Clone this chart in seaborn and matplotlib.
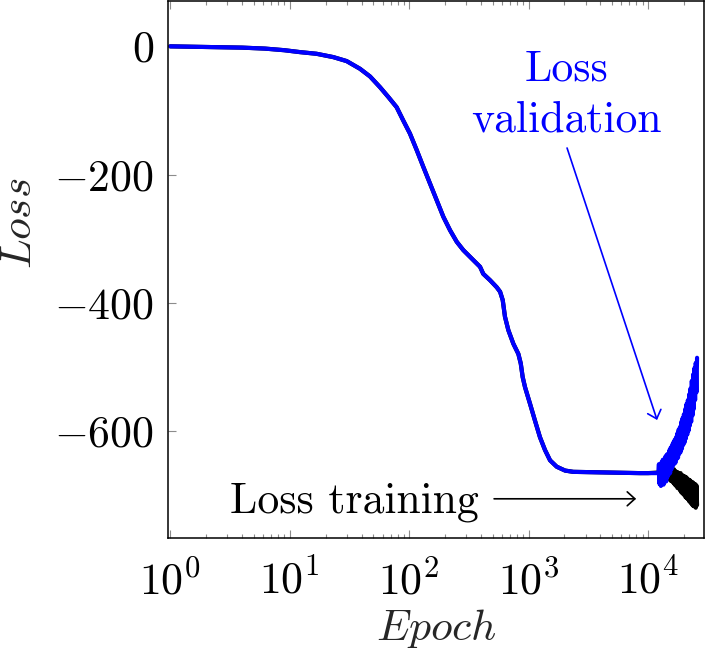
"""
Loss curves (training / validation) against epoch on a log axis.
"""
import numpy as np
import pandas as pd
import matplotlib
matplotlib.use("Agg")
import matplotlib.pyplot as plt
from matplotlib.ticker import LogLocator, NullFormatter
import seaborn as sns

# Shared part of both curves (the two losses coincide here)
epoch_main = [1, 2, 4, 6.2, 9, 12.2, 16.8, 23.2, 30, 38.8, 47.1, 57, 67, 78.7, 89.5,
              101.6, 115.9, 131.5, 149.6, 170.2, 193.6, 220.3, 250.6, 284.4, 334,
              392.6, 417.8, 476.4, 542, 578, 608, 635, 678, 746, 822, 861, 893,
              935, 1030, 1132, 1247, 1374, 1514, 1722, 2023, 2371, 8590, 10000]
loss_main = [0, -1, -2, -3.5, -6, -9, -11.6, -16.8, -23, -35, -47, -63.6, -79, -95, -116,
             -136, -162, -188, -214, -240, -266, -287, -305, -318, -331,
             -344, -355, -365, -376, -383, -396, -422, -443, -464, -480, -495, -516,
             -532, -558, -584, -610, -630, -646, -656, -662, -664, -666, -666]

# Noisy tail where the two curves split
epoch_tail = [12190, 12350, 12500, 12660, 12820, 12990, 13150, 13320, 13490, 13660,
              13840, 14010, 14200, 14380, 14560, 14750, 14940, 15130, 15320, 15510,
              15710, 15910, 16120, 16320, 16530, 16740, 16960, 17170, 17390, 17620,
              17840, 18070, 18300, 18530, 18770, 19010, 19250, 19500, 19740, 20000,
              20250, 20510, 20770, 21040, 21310, 21580, 21850, 22130, 22410, 22700,
              22990, 23280, 23580, 23880, 24180, 24490, 24800, 25120, 25440, 25760]
loss_tail_val = [-666, -652, -683, -655, -686, -649, -680, -645, -684, -650,
                 -676, -640, -679, -637, -672, -636, -668, -630, -666, -626,
                 -660, -622, -655, -618, -652, -614, -650, -610, -644, -604,
                 -642, -598, -636, -594, -633, -586, -628, -580, -622, -574,
                 -618, -566, -612, -558, -606, -552, -600, -543, -592, -534,
                 -586, -522, -576, -512, -566, -502, -552, -494, -540, -486]
loss_tail_train = [-665, -667, -664, -668, -663, -669, -662, -668, -661, -670,
                   -660, -671, -659, -673, -660, -675, -658, -676, -661, -678,
                   -659, -679, -662, -681, -660, -684, -663, -686, -664, -689,
                   -665, -690, -667, -693, -666, -696, -669, -698, -670, -700,
                   -671, -703, -672, -705, -674, -707, -676, -710, -677, -712,
                   -679, -715, -680, -717, -682, -718, -683, -720, -685, -716]

y_ticks = [0, -200, -400, -600]

epochs = epoch_main + epoch_tail
df = pd.concat([
    pd.DataFrame({"epoch": epochs, "loss": loss_main + loss_tail_train, "series": "training"}),
    pd.DataFrame({"epoch": epochs, "loss": loss_main + loss_tail_val, "series": "validation"}),
], ignore_index=True)

sns.set_theme(style="white")
plt.rcParams["font.family"] = ["cmr10", "DejaVu Serif"]
plt.rcParams["mathtext.fontset"] = "cm"
plt.rcParams["axes.formatter.use_mathtext"] = True
plt.rcParams["axes.unicode_minus"] = True

FS = 31.5
BLUE = "#0000ff"

fig = plt.figure(figsize=(7.06, 6.48), dpi=100)
ax = fig.add_axes([0.2373, 0.169, 0.7600, 0.8287])

sns.lineplot(data=df, x="epoch", y="loss", hue="series",
             hue_order=["training", "validation"],
             palette={"training": "black", "validation": BLUE},
             estimator=None, sort=False, linewidth=3.0, legend=False, ax=ax)

ax.set_xscale("log")
ax.set_xlim(0.95, 29500)
ax.set_ylim(-768, 70)
ax.set_yticks(y_ticks)
ax.xaxis.set_major_locator(LogLocator(base=10, numticks=20))
ax.xaxis.set_minor_locator(LogLocator(base=10, subs=np.arange(2, 10), numticks=20))
ax.xaxis.set_minor_formatter(NullFormatter())

for side in ax.spines.values():
    side.set_color("black")
    side.set_linewidth(1.1)

ax.tick_params(axis="both", which="both", direction="in", colors="#8c8c8c",
               labelcolor="black", labelsize=FS, width=0.8)
ax.tick_params(axis="x", which="both", top=True, bottom=True, pad=16)
ax.tick_params(axis="x", which="major", length=5.5)
ax.tick_params(axis="x", which="minor", length=3)
ax.tick_params(axis="y", which="major", length=5.5, left=True, right=False, pad=9.5)

ax.set_xlabel(r"$Epoch$", fontsize=FS, labelpad=2.5)
ax.set_ylabel(r"$Loss$", fontsize=FS)
ax.yaxis.set_label_coords(-0.238, 0.5875)

# annotations
ax.text(0.3486, 0.0493, "Loss training", transform=ax.transAxes,
        fontsize=FS, ha="center", va="baseline", color="black")
ax.annotate("", xy=(0.8733, 0.0739), xytext=(0.6086, 0.0739),
            xycoords="axes fraction", textcoords="axes fraction",
            arrowprops=dict(arrowstyle="->,head_length=0.55,head_width=0.5",
                            color="black", lw=1.2, shrinkA=0, shrinkB=0,
                            mutation_scale=10))

ax.text(0.7428, 0.852, "Loss", transform=ax.transAxes,
        fontsize=FS, ha="center", va="baseline", color=BLUE)
ax.text(0.7428, 0.757, "validation", transform=ax.transAxes,
        fontsize=FS, ha="center", va="baseline", color=BLUE)
ax.annotate("", xy=(0.9124, 0.2207), xytext=(0.7446, 0.7272),
            xycoords="axes fraction", textcoords="axes fraction",
            arrowprops=dict(arrowstyle="->,head_length=0.55,head_width=0.5",
                            color=BLUE, lw=1.2, shrinkA=0, shrinkB=0,
                            mutation_scale=10))

fig.savefig("out.png", dpi=100)
plt.close(fig)
